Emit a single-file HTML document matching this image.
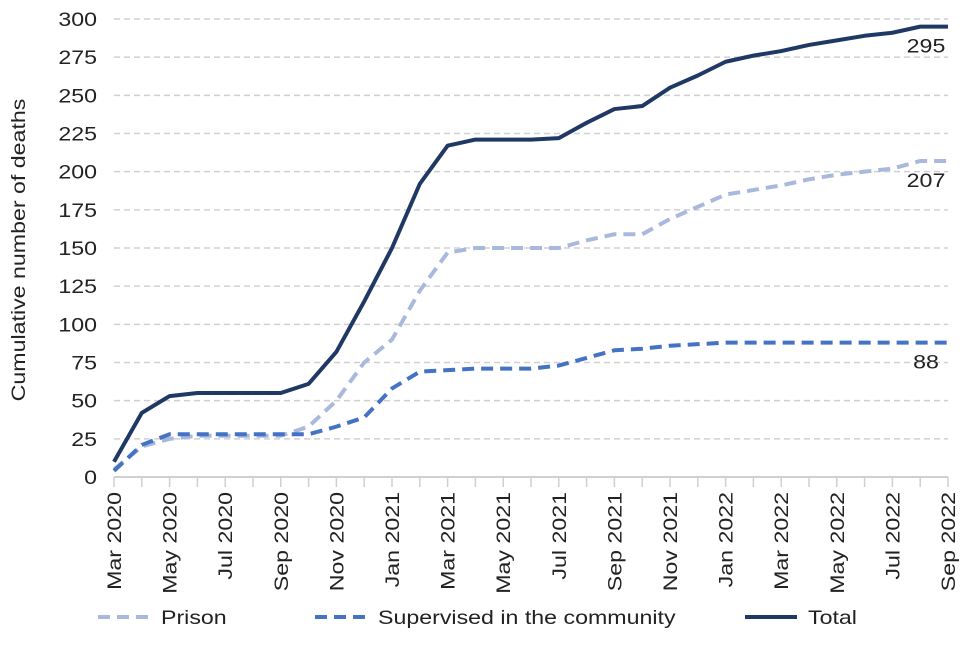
<!DOCTYPE html>
<html><head><meta charset="utf-8"><style>
body{margin:0;background:#fff;font-family:"Liberation Sans",Arial,sans-serif}
svg text{font-family:"Liberation Sans",Arial,sans-serif;fill:#222}
</style></head><body>
<svg id="c" width="960" height="640" viewBox="0 0 960 640"></svg>
<script>
const months=["Mar 2020","Apr 2020","May 2020","Jun 2020","Jul 2020","Aug 2020","Sep 2020","Oct 2020","Nov 2020","Dec 2020","Jan 2021","Feb 2021","Mar 2021","Apr 2021","May 2021","Jun 2021","Jul 2021","Aug 2021","Sep 2021","Oct 2021","Nov 2021","Dec 2021","Jan 2022","Feb 2022","Mar 2022","Apr 2022","May 2022","Jun 2022","Jul 2022","Aug 2022","Sep 2022"];
const total=[10,42,53,55,55,55,55,61,82,115,150,192,217,221,221,221,222,232,241,243,255,263,272,276,279,283,286,289,291,295,295];
const prison=[5,20,25,27,27,27,27,33,50,75,90,122,147,150,150,150,150,155,159,159,169,177,185,188,191,195,198,200,202,207,207];
const supervised=[4,21,28,28,28,28,28,28,33,39,58,69,70,71,71,71,73,78,83,84,86,87,88,88,88,88,88,88,88,88,88];
const yTicks=[0,25,50,75,100,125,150,175,200,225,250,275,300];
const NS="http://www.w3.org/2000/svg",svg=document.getElementById('c');
const x0=114,x1=948,y0=477,y1=19;
const SX=1.22;
const X=i=>x0+(x1-x0)*i/(months.length-1);
const Y=v=>y0-(y0-y1)*v/300;
function mk(t,a,p){const e=document.createElementNS(NS,t);for(const k in a)e.setAttribute(k,a[k]);(p||svg).appendChild(e);return e;}
function txt(x,y,s,anchor,rot,p){const t=mk('text',{transform:`translate(${x},${y}) rotate(${rot||0}) scale(${SX},1)`,'text-anchor':anchor,'font-size':19},p);t.textContent=s;return t;}
yTicks.forEach(v=>{
  if(v>0){const g=mk('line',{x1:x0,x2:x1,y1:Y(v),y2:Y(v),stroke:'#d0d0d0','stroke-width':1.5,'stroke-dasharray':'6 4'});
  
  }
  const t=txt(97,Y(v)+7,v,'end');
  
  
});
const ax=mk('line',{x1:x0,x2:x1,y1:y0,y2:y0,stroke:'#d0d0d0','stroke-width':2});


months.forEach((m,i)=>{
  const tk=mk('line',{x1:X(i),x2:X(i),y1:y0,y2:y0+10,stroke:'#d0d0d0','stroke-width':1.5});
  
  
  if(i%2==0){const t=txt(X(i)+7,y0+15,m,'end',-90);
  
  }
});
const yt=txt(25,250,'Cumulative number of deaths','middle',-90);


function line(d,col,dash,name){const p=mk('polyline',{points:d.map((v,i)=>X(i)+','+Y(v)).join(' '),fill:'none',stroke:col,'stroke-width':4,'stroke-dasharray':dash,'stroke-linejoin':'round'});

}
line(prison,'#a9b9de','12 7','prison-line');
line(supervised,'#4472c4','12 7','supervised-line');
line(total,'#1f3864','none','total-line');
[[total,'total-end-label'],[prison,'prison-end-label'],[supervised,'supervised-end-label']].forEach(([d,n])=>{
  const v=d[d.length-1];const t=txt(926,Y(v)+26,v,'middle');t.setAttribute('fill','#444');
  
  
});
[['Prison','#a9b9de','12 7',98],['Supervised in the community','#4472c4','12 7',315],['Total','#1f3864','none',745]].forEach(([l,c,d,x])=>{
  const g=mk('g',{});
  
  
  mk('line',{x1:x,x2:x+52,y1:617,y2:617,stroke:c,'stroke-width':4,'stroke-dasharray':d},g);
  txt(x+63,624,l,'start',0,g);
});
</script></body></html>
